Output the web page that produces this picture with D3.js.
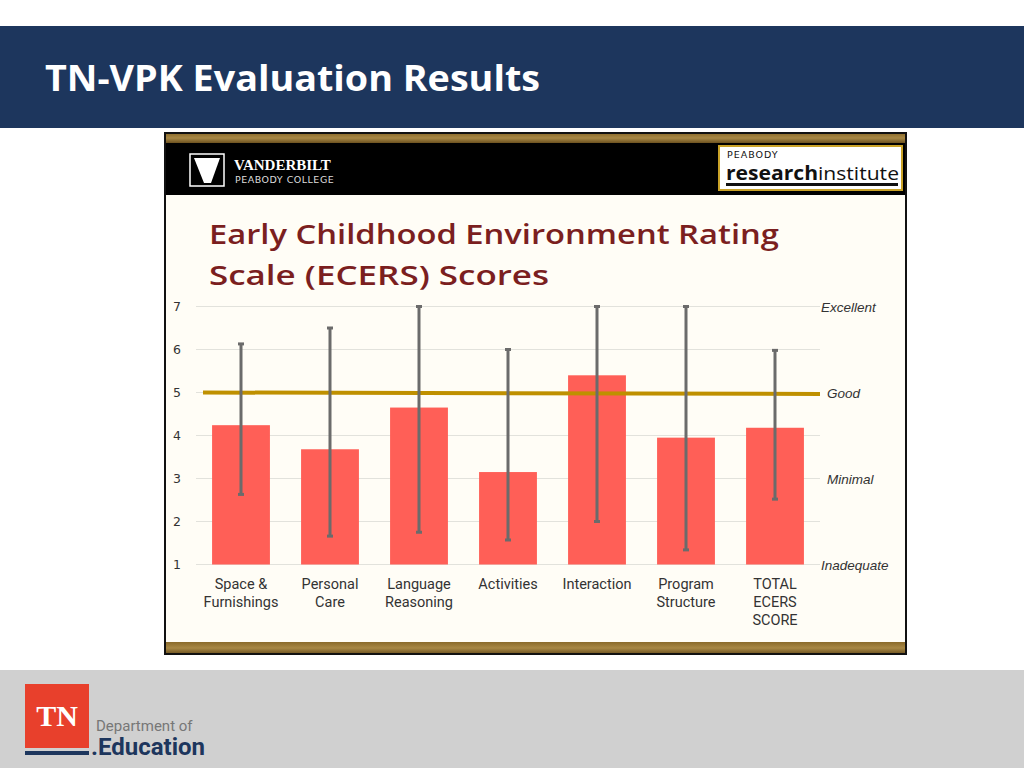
<!DOCTYPE html>
<html><head><meta charset="utf-8">
<script src="https://cdn.jsdelivr.net/npm/d3@7"></script>
<style>html,body{margin:0;padding:0;background:#fff;}svg{display:block;}</style>
</head><body>
<svg id="c" width="1024" height="768"></svg>
<script>
const categories = [["Space &","Furnishings"],["Personal","Care"],["Language","Reasoning"],["Activities"],["Interaction"],["Program","Structure"],["TOTAL","ECERS","SCORE"]];
const means = [4.24, 3.68, 4.65, 3.15, 5.40, 3.95, 4.18];
const mins  = [2.63, 1.66, 1.75, 1.57, 2.00, 1.34, 2.52];
const maxs  = [6.13, 6.50, 7.00, 6.00, 7.00, 7.00, 5.98];
const yTicks = [1,2,3,4,5,6,7];
const ratingLabels = [["Excellent",7],["Good",5],["Minimal",3],["Inadequate",1]];
const goodLevel = 5;

const svg = d3.select("#c");
// slide background
svg.append("rect").attr("x",0).attr("y",26).attr("width",1024).attr("height",102).attr("fill","#1d365d");
svg.append("text").attr("x",45).attr("y",91).attr("fill","#fff").attr("font-family","Open Sans, sans-serif")
  .attr("font-weight","bold").attr("font-size",35).attr("textLength",495).attr("lengthAdjust","spacingAndGlyphs").text("TN-VPK Evaluation Results");
svg.append("rect").attr("x",0).attr("y",670).attr("width",1024).attr("height",98).attr("fill","#d0d0d0");

// footer logo
svg.append("rect").attr("x",25).attr("y",684).attr("width",64).attr("height",64).attr("fill","#e8402c");
svg.append("rect").attr("x",25).attr("y",751).attr("width",64).attr("height",4).attr("fill","#1d365d");
svg.append("text").attr("x",57).attr("y",726).attr("text-anchor","middle").attr("fill","#fff").attr("font-family","Liberation Serif, serif").attr("font-weight","bold").attr("font-size",30).text("TN");
svg.append("text").attr("x",96).attr("y",731).attr("fill","#777").attr("font-family","Roboto, sans-serif").attr("font-size",15).text("Department of");
svg.append("text").attr("x",91).attr("y",755).attr("fill","#1d365d").attr("font-family","Roboto, sans-serif").attr("font-weight","bold").attr("font-size",24).text(".Education");

// embedded picture
const bx=165, by=133, bw=741, bh=521;
svg.append("rect").attr("x",bx).attr("y",by).attr("width",bw).attr("height",bh).attr("fill","#fffdf6");
const defs = svg.append("defs");
const g1 = defs.append("linearGradient").attr("id","gold").attr("x1",0).attr("x2",0).attr("y1",0).attr("y2",1);
g1.append("stop").attr("offset","0%").attr("stop-color","#8a6a2a");
g1.append("stop").attr("offset","50%").attr("stop-color","#a88845");
g1.append("stop").attr("offset","100%").attr("stop-color","#6d5220");
svg.append("rect").attr("x",bx).attr("y",by).attr("width",bw).attr("height",10).attr("fill","url(#gold)");
svg.append("rect").attr("x",bx).attr("y",143).attr("width",bw).attr("height",52).attr("fill","#000");
svg.append("rect").attr("x",bx).attr("y",642).attr("width",bw).attr("height",12).attr("fill","url(#gold)");
svg.append("rect").attr("x",bx).attr("y",by).attr("width",bw).attr("height",bh).attr("fill","none").attr("stroke","#111").attr("stroke-width",2);

// Vanderbilt logo
svg.append("rect").attr("x",190).attr("y",154).attr("width",34).attr("height",32).attr("fill","none").attr("stroke","#fff").attr("stroke-width",1.5);
svg.append("path").attr("d","M194,158 L220,158 L211,183 L204,183 Z").attr("fill","#fff");
svg.append("text").attr("x",234).attr("y",170).attr("fill","#fff").attr("font-family","Liberation Serif, serif").attr("font-weight","bold").attr("font-size",15).text("VANDERBILT");
svg.append("text").attr("x",235).attr("y",183).attr("fill","#ddd").attr("font-family","DejaVu Sans, sans-serif").attr("font-size",9.5).attr("letter-spacing",0.5).text("PEABODY COLLEGE");
// Peabody research institute logo
svg.append("rect").attr("x",719).attr("y",146).attr("width",183).attr("height",44).attr("fill","#fff").attr("stroke","#c9a227").attr("stroke-width",2);
svg.append("text").attr("x",727).attr("y",158).attr("fill","#111").attr("font-family","DejaVu Sans, sans-serif").attr("font-size",9.5).attr("letter-spacing",1).text("PEABODY");
svg.append("text").attr("x",726).attr("y",180).attr("fill","#111").attr("font-family","Open Sans, sans-serif").attr("font-size",19).attr("textLength",173).attr("lengthAdjust","spacingAndGlyphs")
  .html('<tspan font-weight="bold">research</tspan><tspan>institute</tspan>');
svg.append("rect").attr("x",726).attr("y",183).attr("width",172).attr("height",3).attr("fill","#111");

// chart title
const tt = svg.append("text").attr("fill","#7b1f1f").attr("font-family","Open Sans, sans-serif").attr("font-weight","600").attr("font-size",27);
tt.append("tspan").attr("x",209).attr("y",244).attr("textLength",570).attr("lengthAdjust","spacingAndGlyphs").text("Early Childhood Environment Rating");
tt.append("tspan").attr("x",209).attr("y",285).attr("textLength",340).attr("lengthAdjust","spacingAndGlyphs").text("Scale (ECERS) Scores");

// scales
const x = d3.scaleBand().domain(d3.range(categories.length)).range([196.5, 819.5]).paddingInner(0.35).paddingOuter(0.175);
const y = d3.scaleLinear().domain([1,7]).range([564.5, 306.5]);

const plot = svg.append("g");
// gridlines
plot.selectAll(".grid").data(yTicks).join("line")
  .attr("x1",196).attr("x2",820).attr("y1",d=>y(d)).attr("y2",d=>y(d))
  .attr("stroke","#e2e2dc").attr("stroke-width",1);
// y axis labels
const yAxis = d3.axisLeft(y).tickValues(yTicks).tickFormat(d3.format("d")).tickSize(0).tickPadding(0);
const ya = svg.append("g").attr("transform","translate(181,0)").call(yAxis);
ya.select(".domain").remove();
ya.selectAll("text").attr("text-anchor","middle").attr("x",-4).attr("font-family","DejaVu Sans, sans-serif").attr("font-size",12.5).attr("fill","#333");

// bars
plot.selectAll(".bar").data(means).join("rect")
  .attr("x",(d,i)=>x(i)).attr("width",x.bandwidth())
  .attr("y",d=>y(d)).attr("height",d=>y(1)-y(d)).attr("fill","#ff5f57");

// good line
plot.append("line").attr("x1",203).attr("x2",820).attr("y1",y(goodLevel)).attr("y2",y(goodLevel)+1.5)
  .attr("stroke","#bf9000").attr("stroke-width",4);

// error bars
const eb = plot.selectAll(".eb").data(means.map((m,i)=>({i,lo:mins[i],hi:maxs[i]}))).join("g");
eb.append("line").attr("x1",d=>x(d.i)+x.bandwidth()/2).attr("x2",d=>x(d.i)+x.bandwidth()/2)
  .attr("y1",d=>y(d.hi)).attr("y2",d=>y(d.lo)).attr("stroke","#6b6b6b").attr("stroke-width",3);
eb.append("line").attr("x1",d=>x(d.i)+x.bandwidth()/2-3).attr("x2",d=>x(d.i)+x.bandwidth()/2+3)
  .attr("y1",d=>y(d.hi)).attr("y2",d=>y(d.hi)).attr("stroke","#6b6b6b").attr("stroke-width",3);
eb.append("line").attr("x1",d=>x(d.i)+x.bandwidth()/2-3).attr("x2",d=>x(d.i)+x.bandwidth()/2+3)
  .attr("y1",d=>y(d.lo)).attr("y2",d=>y(d.lo)).attr("stroke","#6b6b6b").attr("stroke-width",3);

// rating labels
svg.selectAll(".rl").data(ratingLabels).join("text")
  .attr("x",d=>d[0]==="Excellent"||d[0]==="Inadequate"?821:827).attr("y",d=>y(d[1])+5)
  .attr("font-family","Liberation Sans, Arial, sans-serif").attr("font-style","italic").attr("font-size",13.5).attr("fill","#333")
  .text(d=>d[0]);

// x labels
const xl = svg.selectAll(".xl").data(categories).join("text")
  .attr("text-anchor","middle").attr("font-family","Liberation Sans Narrow, Roboto, sans-serif").attr("font-size",14.5).attr("fill","#333");
xl.each(function(d,i){
  const t=d3.select(this);
  d.forEach((line,k)=>t.append("tspan").attr("x",x(i)+x.bandwidth()/2).attr("y",589+k*18).text(line));
});
</script>
</body></html>
